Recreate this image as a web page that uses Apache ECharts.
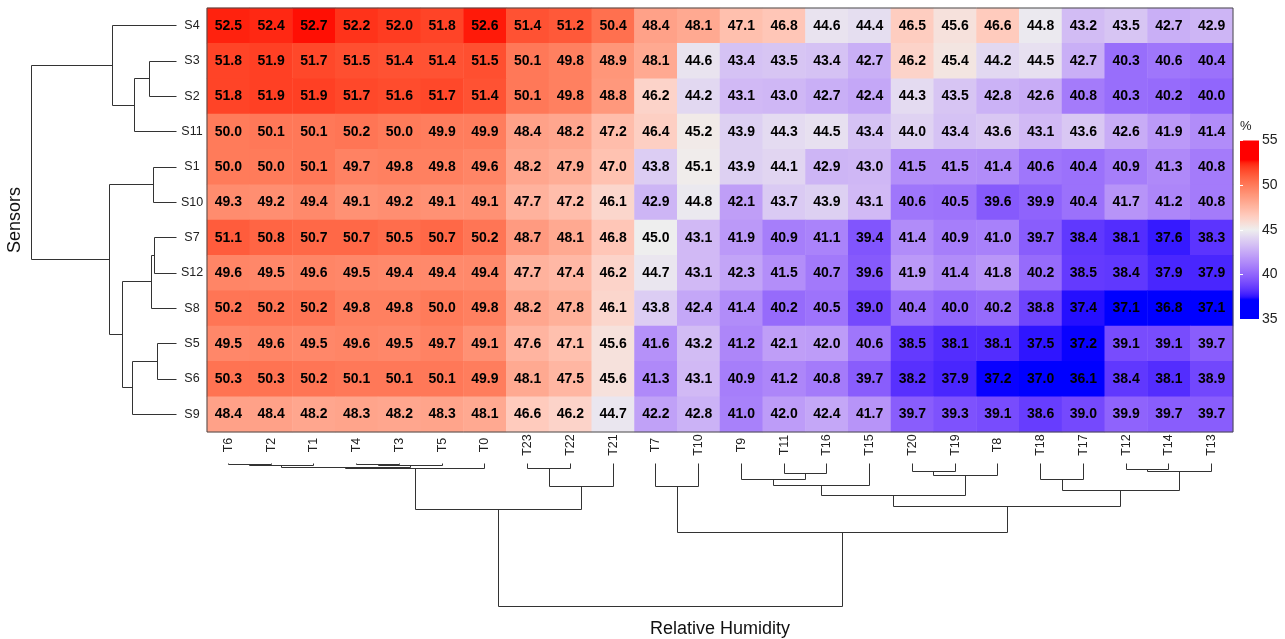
<!DOCTYPE html>
<html><head><meta charset="utf-8">
<script src="https://cdn.jsdelivr.net/npm/echarts@6.0.0/dist/echarts.min.js"></script>
<style>html,body{margin:0;padding:0;background:#fff}#chart{width:1285px;height:639px}</style>
</head><body><div id="chart"></div>
<script>
// ---------- data ----------
const sensors = ['S4','S3','S2','S11','S1','S10','S7','S12','S8','S5','S6','S9'];
const times = ['T6','T2','T1','T4','T3','T5','T0','T23','T22','T21','T7','T10','T9','T11','T16','T15','T20','T19','T8','T18','T17','T12','T14','T13'];

const rhS4  = [52.5,52.4,52.7,52.2,52.0,51.8,52.6,51.4,51.2,50.4,48.4,48.1,47.1,46.8,44.6,44.4,46.5,45.6,46.6,44.8,43.2,43.5,42.7,42.9];
const rhS3  = [51.8,51.9,51.7,51.5,51.4,51.4,51.5,50.1,49.8,48.9,48.1,44.6,43.4,43.5,43.4,42.7,46.2,45.4,44.2,44.5,42.7,40.3,40.6,40.4];
const rhS2  = [51.8,51.9,51.9,51.7,51.6,51.7,51.4,50.1,49.8,48.8,46.2,44.2,43.1,43.0,42.7,42.4,44.3,43.5,42.8,42.6,40.8,40.3,40.2,40.0];
const rhS11 = [50.0,50.1,50.1,50.2,50.0,49.9,49.9,48.4,48.2,47.2,46.4,45.2,43.9,44.3,44.5,43.4,44.0,43.4,43.6,43.1,43.6,42.6,41.9,41.4];
const rhS1  = [50.0,50.0,50.1,49.7,49.8,49.8,49.6,48.2,47.9,47.0,43.8,45.1,43.9,44.1,42.9,43.0,41.5,41.5,41.4,40.6,40.4,40.9,41.3,40.8];
const rhS10 = [49.3,49.2,49.4,49.1,49.2,49.1,49.1,47.7,47.2,46.1,42.9,44.8,42.1,43.7,43.9,43.1,40.6,40.5,39.6,39.9,40.4,41.7,41.2,40.8];
const rhS7  = [51.1,50.8,50.7,50.7,50.5,50.7,50.2,48.7,48.1,46.8,45.0,43.1,41.9,40.9,41.1,39.4,41.4,40.9,41.0,39.7,38.4,38.1,37.6,38.3];
const rhS12 = [49.6,49.5,49.6,49.5,49.4,49.4,49.4,47.7,47.4,46.2,44.7,43.1,42.3,41.5,40.7,39.6,41.9,41.4,41.8,40.2,38.5,38.4,37.9,37.9];
const rhS8  = [50.2,50.2,50.2,49.8,49.8,50.0,49.8,48.2,47.8,46.1,43.8,42.4,41.4,40.2,40.5,39.0,40.4,40.0,40.2,38.8,37.4,37.1,36.8,37.1];
const rhS5  = [49.5,49.6,49.5,49.6,49.5,49.7,49.1,47.6,47.1,45.6,41.6,43.2,41.2,42.1,42.0,40.6,38.5,38.1,38.1,37.5,37.2,39.1,39.1,39.7];
const rhS6  = [50.3,50.3,50.2,50.1,50.1,50.1,49.9,48.1,47.5,45.6,41.3,43.1,40.9,41.2,40.8,39.7,38.2,37.9,37.2,37.0,36.1,38.4,38.1,38.9];
const rhS9  = [48.4,48.4,48.2,48.3,48.2,48.3,48.1,46.6,46.2,44.7,42.2,42.8,41.0,42.0,42.4,41.7,39.7,39.3,39.1,38.6,39.0,39.9,39.7,39.7];
const rowValues = [rhS4,rhS3,rhS2,rhS11,rhS1,rhS10,rhS7,rhS12,rhS8,rhS5,rhS6,rhS9];

// dendrogram merges: [childA, childB, height]; '#k' = result of merge k
const sensorMerges = [
  ['S3','S2',27], ['#0','S11',42], ['S4','#1',64],
  ['S1','S10',23], ['S7','S12',22], ['#4','S8',25],
  ['S5','S6',19], ['#6','S9',44], ['#5','#7',54],
  ['#3','#8',67], ['#2','#9',145]
];
const timeMerges = [
  ['T6','T2',1.3], ['#0','T1',2.7], ['T4','T3',1.3], ['#2','T5',2.3],
  ['#1','#3',5.0], ['#4','T0',6.0], ['T23','T22',6.0], ['#6','T21',23.5],
  ['#5','#7',47.7], ['T7','T10',24], ['T11','T16',10.7], ['T9','#10',17.3],
  ['#11','T15',22.7], ['T20','T19',8.3], ['#13','T8',12.7], ['#12','#14',32.7],
  ['T18','T17',17.3], ['T12','T14',6.7], ['#17','T13',8.3], ['#16','#18',28.3],
  ['#15','#19',44.3], ['#9','#20',71], ['#8','#21',146]
];

const legendMin = 35, legendMax = 55, legendStep = 5;
const paletteValues = [37.2, 45, 52.8];
const paletteColors = ['#0000FF', '#EEEEEE', '#FF0000'];

// ---------- colour helpers (Lab interpolation) ----------
function hexToRgb(h){return [parseInt(h.slice(1,3),16),parseInt(h.slice(3,5),16),parseInt(h.slice(5,7),16)];}
function toLin(c){c/=255;return c<=0.04045?c/12.92:Math.pow((c+0.055)/1.055,2.4);}
function toS(c){c=c<=0.0031308?12.92*c:1.055*Math.pow(c,1/2.4)-0.055;return Math.round(Math.max(0,Math.min(1,c))*255);}
const WX=0.95047,WY=1,WZ=1.08883;
function ff(t){return t>0.008856?Math.cbrt(t):7.787*t+16/116;}
function fi(t){return t>0.206893?t*t*t:(t-16/116)/7.787;}
function rgb2lab(rgb){const [r,g,b]=rgb.map(toLin);
  const X=(0.4124*r+0.3576*g+0.1805*b)/WX, Y=(0.2126*r+0.7152*g+0.0722*b)/WY, Z=(0.0193*r+0.1192*g+0.9505*b)/WZ;
  const fx=ff(X),fy=ff(Y),fz=ff(Z); return [116*fy-16,500*(fx-fy),200*(fy-fz)];}
function lab2rgb(l){const fy=(l[0]+16)/116,fx=fy+l[1]/500,fz=fy-l[2]/200;
  const X=fi(fx)*WX,Y=fi(fy)*WY,Z=fi(fz)*WZ;
  const r=3.2406*X-1.5372*Y-0.4986*Z,g=-0.9689*X+1.8758*Y+0.0415*Z,b=0.0557*X-0.2040*Y+1.0570*Z;
  return 'rgb('+toS(r)+','+toS(g)+','+toS(b)+')';}
const paletteLab = paletteColors.map(c=>rgb2lab(hexToRgb(c)));
function colorAt(v){
  const n=paletteValues.length;
  if(v<=paletteValues[0]) return lab2rgb(paletteLab[0]);
  if(v>=paletteValues[n-1]) return lab2rgb(paletteLab[n-1]);
  let i=0; while(v>paletteValues[i+1]) i++;
  const t=(v-paletteValues[i])/(paletteValues[i+1]-paletteValues[i]);
  const a=paletteLab[i],b=paletteLab[i+1];
  return lab2rgb([a[0]+(b[0]-a[0])*t,a[1]+(b[1]-a[1])*t,a[2]+(b[2]-a[2])*t]);
}
const NSTOP=161;
const vmColors=[], gradStops=[];
for(let k=0;k<NSTOP;k++){
  const v=legendMin+(legendMax-legendMin)*k/(NSTOP-1);
  const c=colorAt(v);
  vmColors.push(c);
  gradStops.push({offset:1-k/(NSTOP-1), color:c});
}
gradStops.reverse();

// ---------- build series data ----------
const heatData=[];
rowValues.forEach((row,yi)=>row.forEach((v,xi)=>heatData.push([xi,yi,v])));

function buildSegments(merges, leaves){
  const pos={},hgt={};
  leaves.forEach((l,i)=>{pos[l]=i;hgt[l]=0;});
  const segs=[];
  merges.forEach((m,i)=>{
    const [a,b,h]=m;
    segs.push([pos[a],hgt[a],pos[b],hgt[b],h]);
    pos['#'+i]=(pos[a]+pos[b])/2; hgt['#'+i]=h;
  });
  return segs;
}
const rowSegs=buildSegments(sensorMerges,sensors);
const colSegs=buildSegments(timeMerges,times);

function crisp(p){return [Math.round(p[0]-0.5)+0.5, Math.round(p[1]-0.5)+0.5];}
const lineStyle={stroke:'#333',lineWidth:1,fill:null};

const FONT="'Liberation Sans', Arial, Helvetica, sans-serif";
const chart=echarts.init(document.getElementById('chart'),null,{renderer:'canvas'});
chart.setOption({
  animation:false,
  backgroundColor:'#fff',
  textStyle:{fontFamily:FONT},
  grid:[
    {left:207,top:8,width:1026,height:424,show:true,z:5,borderColor:'#4a4a4a',borderWidth:1,backgroundColor:'rgba(0,0,0,0)'},
    {left:31,top:8,width:145,height:424},
    {left:207,top:463,width:1026,height:146},
    {left:1240,top:140.5,width:19,height:178.5}
  ],
  visualMap:{type:'continuous',show:false,min:legendMin,max:legendMax,seriesIndex:0,dimension:2,inRange:{color:vmColors}},
  xAxis:[
    {gridIndex:0,type:'category',data:times,position:'bottom',axisLine:{show:false},axisTick:{show:false},splitLine:{show:false},
     axisLabel:{rotate:90,margin:13,align:'center',verticalAlign:'middle',fontSize:12.5,color:'#222',interval:0}},
    {gridIndex:1,type:'value',min:0,max:145,inverse:true,show:false},
    {gridIndex:2,type:'value',min:-0.5,max:23.5,axisLine:{show:false,onZero:false},axisTick:{show:false},axisLabel:{show:false},splitLine:{show:false},
     name:'Relative Humidity',nameLocation:'middle',nameGap:14,nameTextStyle:{fontSize:18,color:'#111'}},
    {gridIndex:3,type:'value',min:0,max:1,show:false}
  ],
  yAxis:[
    {gridIndex:0,type:'category',data:sensors,inverse:true,axisLine:{show:false},axisTick:{show:false},splitLine:{show:false},
     axisLabel:{margin:15,align:'center',fontSize:12.5,color:'#222',interval:0}},
    {gridIndex:1,type:'value',min:-0.5,max:11.5,inverse:true,position:'left',axisLine:{show:false,onZero:false},axisTick:{show:false},axisLabel:{show:false},splitLine:{show:false},
     name:'Sensors',nameLocation:'middle',nameGap:7,nameRotate:90,nameTextStyle:{fontSize:18,color:'#111'}},
    {gridIndex:2,type:'value',min:0,max:146,inverse:true,show:false},
    {gridIndex:3,type:'value',min:legendMin,max:legendMax,interval:legendStep,position:'right',z:10,
     axisLine:{show:false},splitLine:{show:false},
     axisTick:{show:true,inside:true,length:3,lineStyle:{color:'#fff',width:1}},
     axisLabel:{margin:3,fontSize:14,color:'#222'}},
    {gridIndex:3,type:'value',min:legendMin,max:legendMax,interval:legendStep,position:'left',z:10,
     axisLine:{show:false},splitLine:{show:false},axisLabel:{show:false},
     axisTick:{show:true,inside:true,length:3,lineStyle:{color:'#fff',width:1}},
     name:'%',nameLocation:'end',nameGap:14,nameTextStyle:{fontSize:13,color:'#222',align:'left',verticalAlign:'middle'}}
  ],
  series:[
    {type:'heatmap',xAxisIndex:0,yAxisIndex:0,data:heatData,itemStyle:{borderWidth:0},
     label:{show:true,formatter:p=>p.value[2].toFixed(1),fontSize:14,fontWeight:'bold',color:'#000',fontFamily:FONT},
     emphasis:{disabled:true}},
    {type:'custom',xAxisIndex:1,yAxisIndex:1,data:rowSegs,silent:true,
     renderItem:(params,api)=>{
       const pa=api.value(0),ha=api.value(1),pb=api.value(2),hb=api.value(3),h=api.value(4);
       const pts=[api.coord([ha,pa]),api.coord([h,pa]),api.coord([h,pb]),api.coord([hb,pb])].map(crisp);
       return {type:'polyline',shape:{points:pts},style:lineStyle};
     }},
    {type:'custom',xAxisIndex:2,yAxisIndex:2,data:colSegs,silent:true,
     renderItem:(params,api)=>{
       const pa=api.value(0),ha=api.value(1),pb=api.value(2),hb=api.value(3),h=api.value(4);
       const pts=[api.coord([pa,ha]),api.coord([pa,h]),api.coord([pb,h]),api.coord([pb,hb])].map(crisp);
       return {type:'polyline',shape:{points:pts},style:lineStyle};
     }},
    {type:'custom',xAxisIndex:3,yAxisIndex:3,data:[[0,legendMin]],silent:true,
     renderItem:(params,api)=>{
       const p1=api.coord([0,legendMax]),p2=api.coord([1,legendMin]);
       return {type:'rect',shape:{x:p1[0],y:p1[1],width:p2[0]-p1[0],height:p2[1]-p1[1]},
         style:{fill:new echarts.graphic.LinearGradient(0,0,0,1,gradStops)}};
     }}
  ]
});
</script></body></html>
